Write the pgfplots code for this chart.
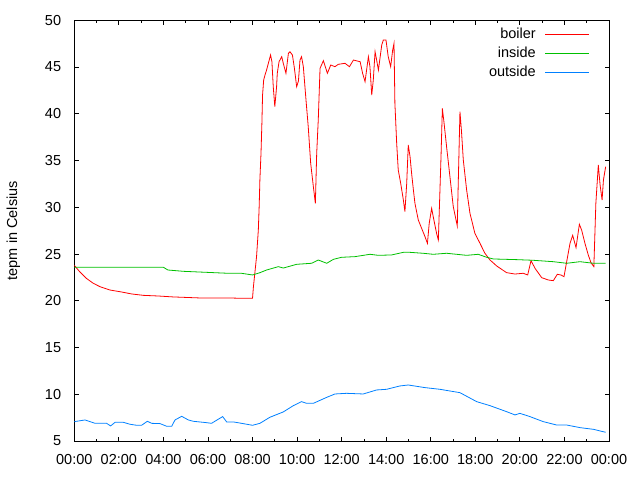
\documentclass[border=0pt]{standalone}
\usepackage{pgfplots}
\pgfplotsset{compat=1.18}
\usepackage{fontspec}
\setmainfont{Liberation Sans}
\definecolor{gpred}{RGB}{255,0,0}
\definecolor{gpgreen}{RGB}{0,192,0}
\definecolor{gpblue}{RGB}{0,128,255}
\begin{document}
\fontsize{14bp}{16bp}\selectfont
\begin{tikzpicture}
\begin{axis}[
  at={(74.3bp,39bp)}, anchor=south west,
  scale only axis, width=534.7bp, height=420.7bp,
  xmin=0, xmax=24, ymin=5, ymax=50,
  xtick={0,2,...,24},
  xticklabels={00:00,02:00,04:00,06:00,08:00,10:00,12:00,14:00,16:00,18:00,20:00,22:00,00:00},
  minor xtick={1,3,...,23},
  ytick={5,10,...,50},
  tick align=inside,
  major tick length=4.5bp, minor tick length=2.5bp,
  tick style={black, line width=0.8bp},
  axis line style={black, line width=0.9bp},
  /pgf/number format/assume math mode=true,
  ticklabel style={font=\fontsize{14.5bp}{16bp}\selectfont},
  yticklabel style={inner sep=0pt, xshift=-13bp},
  xticklabel style={inner sep=0pt, yshift=-13bp},
  ylabel={tepm in Celsius},
  every axis y label/.style={at={(0,0.5)}, xshift=-61bp, rotate=90, anchor=center, font=\fontsize{14.5bp}{16bp}\selectfont},
  legend plot pos=right,
  legend cell align=right,
  legend image post style={xscale=2.6},
  legend style={draw=none, fill=none, at={(1,1)}, anchor=north east, xshift=-16bp, yshift=-4bp,
    font=\fontsize{14.5bp}{16bp}\selectfont, row sep=2bp, column sep=7bp},
  every axis plot/.append style={line width=0.8bp},
]
\addplot[gpred] coordinates {
(0.0,23.79) (0.24,23.11) (0.54,22.40) (0.85,21.87) (1.15,21.51) (1.6,21.15) (2.12,20.94) (2.57,20.73)
(3.1,20.58) (3.77,20.51) (4.44,20.41) (5.64,20.30) (6.99,20.30) (7.5,20.26) (8.0,20.28) (8.04,21.5)
(8.18,24.72) (8.26,27.57) (8.30,30.24) (8.33,32.92) (8.38,35.77) (8.42,38.98) (8.45,42.01) (8.5,43.61)
(8.56,44.15) (8.63,44.68) (8.71,45.40) (8.81,46.29) (8.87,45.57) (8.93,42.90) (9.0,40.76) (9.08,42.90)
(9.11,44.33) (9.19,45.57) (9.31,46.11) (9.38,45.4) (9.50,44.33) (9.61,46.47) (9.68,46.64) (9.79,46.29)
(9.88,44.86) (9.98,42.9) (10.06,43.5) (10.13,45.75) (10.2,46.11) (10.28,45.04) (10.4,41.47) (10.5,38.62)
(10.61,34.70) (10.73,32.21) (10.82,30.42) (10.88,35.77) (10.95,39.34) (11.03,44.86) (11.18,45.68)
(11.36,44.33) (11.51,45.22) (11.7,45.04) (11.85,45.29) (12.15,45.40) (12.35,45.04) (12.53,45.75)
(12.83,45.57) (12.94,44.33) (13.05,43.44) (13.2,46.11) (13.27,45.04) (13.35,42.01) (13.42,43.61)
(13.5,46.64) (13.57,45.75) (13.65,44.68) (13.8,47.36) (13.87,47.89) (13.99,47.89) (14.09,46.11)
(14.2,45.04) (14.29,46.82) (14.35,47.53) (14.39,41.12) (14.47,36.84) (14.54,33.99) (14.65,32.56)
(14.77,30.78) (14.84,29.53) (14.92,32.56) (14.99,36.66) (15.07,35.41) (15.14,33.63) (15.22,31.85)
(15.29,30.42) (15.44,28.64) (15.59,27.75) (15.74,26.86) (15.85,26.14) (15.93,28.28) (16.04,29.89)
(16.11,29.0) (16.26,27.22) (16.34,26.50) (16.41,31.67) (16.46,35.41) (16.52,40.58) (16.59,39.16)
(16.71,36.48) (16.86,33.27) (17.01,30.07) (17.19,28.0) (17.23,32.21) (17.31,40.23) (17.38,38.09)
(17.46,35.06) (17.61,31.85) (17.76,29.35) (17.98,27.22) (18.21,26.14) (18.43,25.08) (18.66,24.36)
(18.96,23.72) (19.4,23.01) (19.78,22.86) (20.15,22.94) (20.35,22.76) (20.5,24.29) (20.68,23.47)
(20.98,22.47) (21.28,22.22) (21.5,22.15) (21.68,22.83) (21.85,22.75) (21.98,22.58) (22.1,24.18)
(22.25,26.14) (22.37,27.0) (22.52,25.68) (22.67,28.18) (22.77,27.57) (22.92,26.14) (23.07,24.90)
(23.19,24.08) (23.32,23.65) (23.41,30.42) (23.52,34.52) (23.6,32.39) (23.69,30.78) (23.75,32.92)
(23.85,34.34)
};
\addlegendentry{boiler}
\addplot[gpgreen] coordinates {
(0,23.58) (4.0,23.58) (4.2,23.29) (4.9,23.15) (6.9,22.94) (7.5,22.94) (8.0,22.76) (8.33,23.0)
(8.63,23.29) (9.16,23.65) (9.38,23.5) (9.98,23.90) (10.65,24.01) (10.95,24.36) (11.33,24.01)
(11.63,24.43) (12.0,24.65) (12.6,24.72) (13.27,24.97) (13.64,24.86) (14.24,24.90) (14.77,25.18)
(15.07,25.18) (15.66,25.08) (16.11,24.97) (16.71,25.08) (17.61,24.86) (18.13,24.97) (18.51,24.65)
(18.81,24.47) (19.85,24.40) (20.60,24.33) (21.50,24.18) (22.10,24.01) (22.70,24.18) (23.30,24.01)
(23.85,24.01)
};
\addlegendentry{inside}
\addplot[gpblue] coordinates {
(0,7.07) (0.48,7.25) (0.93,6.89) (1.45,6.89) (1.63,6.61) (1.83,7.0) (2.2,7.0) (2.5,6.79) (2.80,6.68)
(3.02,6.68) (3.28,7.11) (3.47,6.89) (3.85,6.86) (4.15,6.57) (4.37,6.57) (4.52,7.25) (4.82,7.64)
(5.12,7.25) (5.34,7.11) (5.94,6.96) (6.16,6.89) (6.31,7.11) (6.66,7.61) (6.84,7.04) (7.14,7.04)
(7.51,6.89) (8.0,6.68) (8.33,6.89) (8.78,7.54) (9.38,8.11) (9.83,8.78) (10.2,9.21) (10.43,9.03)
(10.73,9.03) (11.33,9.67) (11.70,10.03) (12.22,10.10) (12.97,10.03) (13.57,10.46) (14.02,10.53)
(14.62,10.89) (14.99,10.99) (15.74,10.71) (16.41,10.53) (17.31,10.17) (18.06,9.21) (18.66,8.78)
(19.40,8.14) (19.78,7.79) (20.0,7.96) (20.45,7.61) (21.05,7.07) (21.65,6.71) (22.10,6.71) (22.70,6.43)
(23.30,6.25) (23.85,5.93)
};
\addlegendentry{outside}
\end{axis}
\pgfresetboundingbox
\path (0,0) rectangle (640bp,480bp);
\end{tikzpicture}
\end{document}
